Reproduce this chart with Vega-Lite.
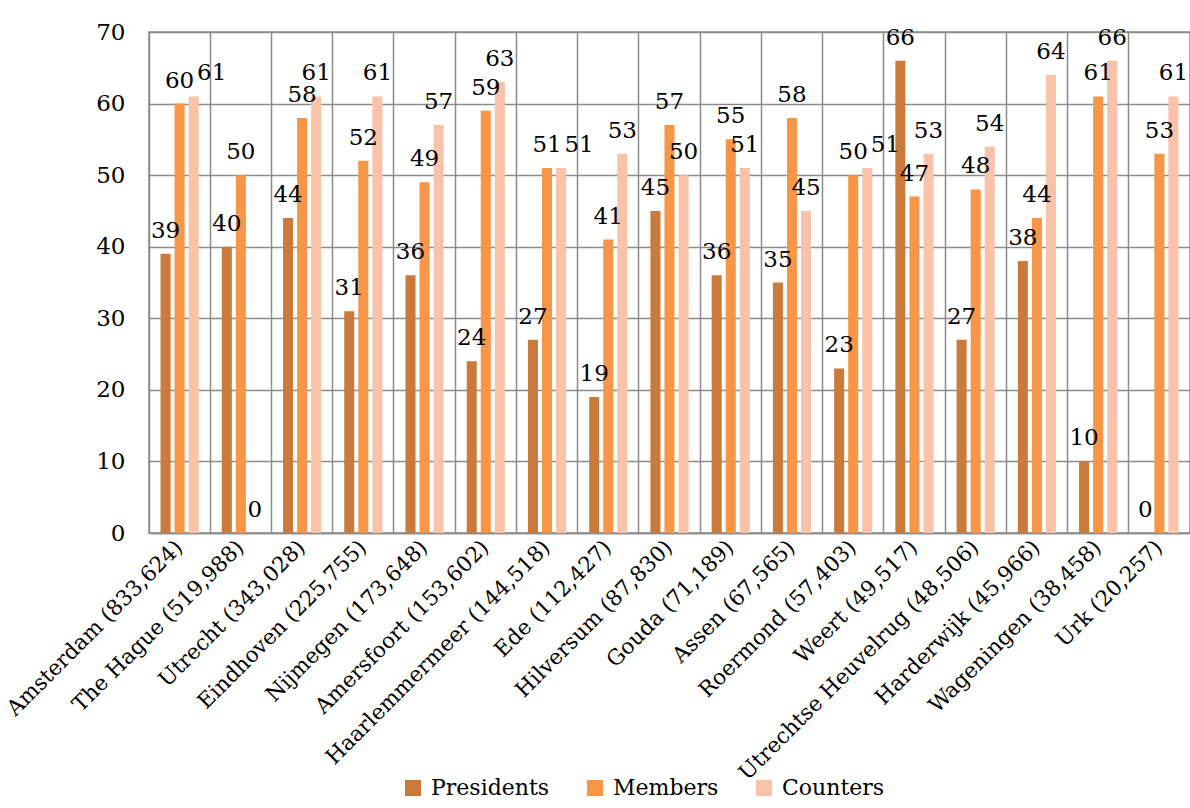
{
  "$schema": "https://vega.github.io/schema/vega-lite/v6.json",
  "width": 1041,
  "height": 501,
  "autosize": {"type": "none"},
  "padding": {"left": 149, "top": 32, "right": 0, "bottom": 275},
  "background": "white",
  "data": {
    "values": [
      {"city": "Amsterdam (833,624)", "Presidents": 39, "Members": 60, "Counters": 61},
      {"city": "The Hague (519,988)", "Presidents": 40, "Members": 50, "Counters": 0},
      {"city": "Utrecht (343,028)", "Presidents": 44, "Members": 58, "Counters": 61},
      {"city": "Eindhoven (225,755)", "Presidents": 31, "Members": 52, "Counters": 61},
      {"city": "Nijmegen (173,648)", "Presidents": 36, "Members": 49, "Counters": 57},
      {"city": "Amersfoort (153,602)", "Presidents": 24, "Members": 59, "Counters": 63},
      {"city": "Haarlemmermeer (144,518)", "Presidents": 27, "Members": 51, "Counters": 51},
      {"city": "Ede (112,427)", "Presidents": 19, "Members": 41, "Counters": 53},
      {"city": "Hilversum (87,830)", "Presidents": 45, "Members": 57, "Counters": 50},
      {"city": "Gouda (71,189)", "Presidents": 36, "Members": 55, "Counters": 51},
      {"city": "Assen (67,565)", "Presidents": 35, "Members": 58, "Counters": 45},
      {"city": "Roermond (57,403)", "Presidents": 23, "Members": 50, "Counters": 51},
      {"city": "Weert (49,517)", "Presidents": 66, "Members": 47, "Counters": 53},
      {"city": "Utrechtse Heuvelrug (48,506)", "Presidents": 27, "Members": 48, "Counters": 54},
      {"city": "Harderwijk (45,966)", "Presidents": 38, "Members": 44, "Counters": 64},
      {"city": "Wageningen (38,458)", "Presidents": 10, "Members": 61, "Counters": 66},
      {"city": "Urk (20,257)", "Presidents": 0, "Members": 53, "Counters": 61}
    ]
  },
  "transform": [
    {"fold": ["Presidents", "Members", "Counters"], "as": ["series", "count"]}
  ],
  "encoding": {
    "x": {
      "field": "city",
      "type": "nominal",
      "sort": null,
      "scale": {"paddingInner": 0, "paddingOuter": 0},
      "axis": {
        "title": null,
        "grid": true,
        "bandPosition": 0,
        "gridColor": "#8C8C8C",
        "gridWidth": 1.5,
        "ticks": false,
        "domainColor": "#8C8C8C",
        "domainWidth": 1.5,
        "labelAngle": -45,
        "labelAlign": "right",
        "labelBaseline": "middle",
        "labelPadding": 11,
        "labelFont": "DejaVu Serif",
        "labelFontSize": 21.5,
        "labelColor": "#000000",
        "labelOverlap": false,
        "labelLimit": 400
      }
    },
    "xOffset": {
      "field": "series",
      "type": "nominal",
      "sort": ["Presidents", "Members", "Counters"],
      "scale": {"paddingInner": 0.286, "paddingOuter": 0.82}
    },
    "y": {
      "field": "count",
      "type": "quantitative",
      "scale": {"domain": [0, 70]},
      "axis": {
        "title": null,
        "values": [0, 10, 20, 30, 40, 50, 60, 70],
        "grid": true,
        "gridColor": "#8C8C8C",
        "gridWidth": 1.5,
        "domain": false,
        "ticks": false,
        "labelPadding": 24,
        "labelFont": "DejaVu Serif",
        "labelFontSize": 23,
        "labelColor": "#000000"
      }
    }
  },
  "layer": [
    {
      "mark": {"type": "bar"},
      "encoding": {
        "color": {
          "field": "series",
          "type": "nominal",
          "sort": ["Presidents", "Members", "Counters"],
          "scale": {
            "domain": ["Presidents", "Members", "Counters"],
            "range": ["#CA7A3B", "#F79646", "#FAC2A8"]
          },
          "legend": {
            "title": null,
            "orient": "none",
            "direction": "horizontal",
            "legendX": 253,
            "legendY": 745,
            "symbolType": "square",
            "symbolSize": 256,
            "symbolStrokeWidth": 0,
            "labelFont": "DejaVu Serif",
            "labelFontSize": 22,
            "labelColor": "#000000",
            "labelOffset": 7,
            "columnPadding": 34
          }
        }
      }
    },
    {
      "transform": [
        {"filter": "!(datum.series === 'Counters' && abs(datum.Members - datum.Counters) <= 1)"}
      ],
      "mark": {
        "type": "text",
        "baseline": "alphabetic",
        "align": "center",
        "dy": -16,
        "font": "DejaVu Serif",
        "fontSize": 23,
        "color": "#000000"
      },
      "encoding": {
        "text": {"field": "count", "type": "quantitative"}
      }
    },
    {
      "transform": [
        {"filter": "datum.series === 'Counters' && abs(datum.Members - datum.Counters) <= 1"}
      ],
      "mark": {
        "type": "text",
        "baseline": "alphabetic",
        "align": "center",
        "dx": 18,
        "dy": -16,
        "font": "DejaVu Serif",
        "fontSize": 23,
        "color": "#000000"
      },
      "encoding": {
        "text": {"field": "count", "type": "quantitative"}
      }
    }
  ],
  "config": {
    "view": {"stroke": "#8C8C8C", "strokeWidth": 1.5}
  }
}
